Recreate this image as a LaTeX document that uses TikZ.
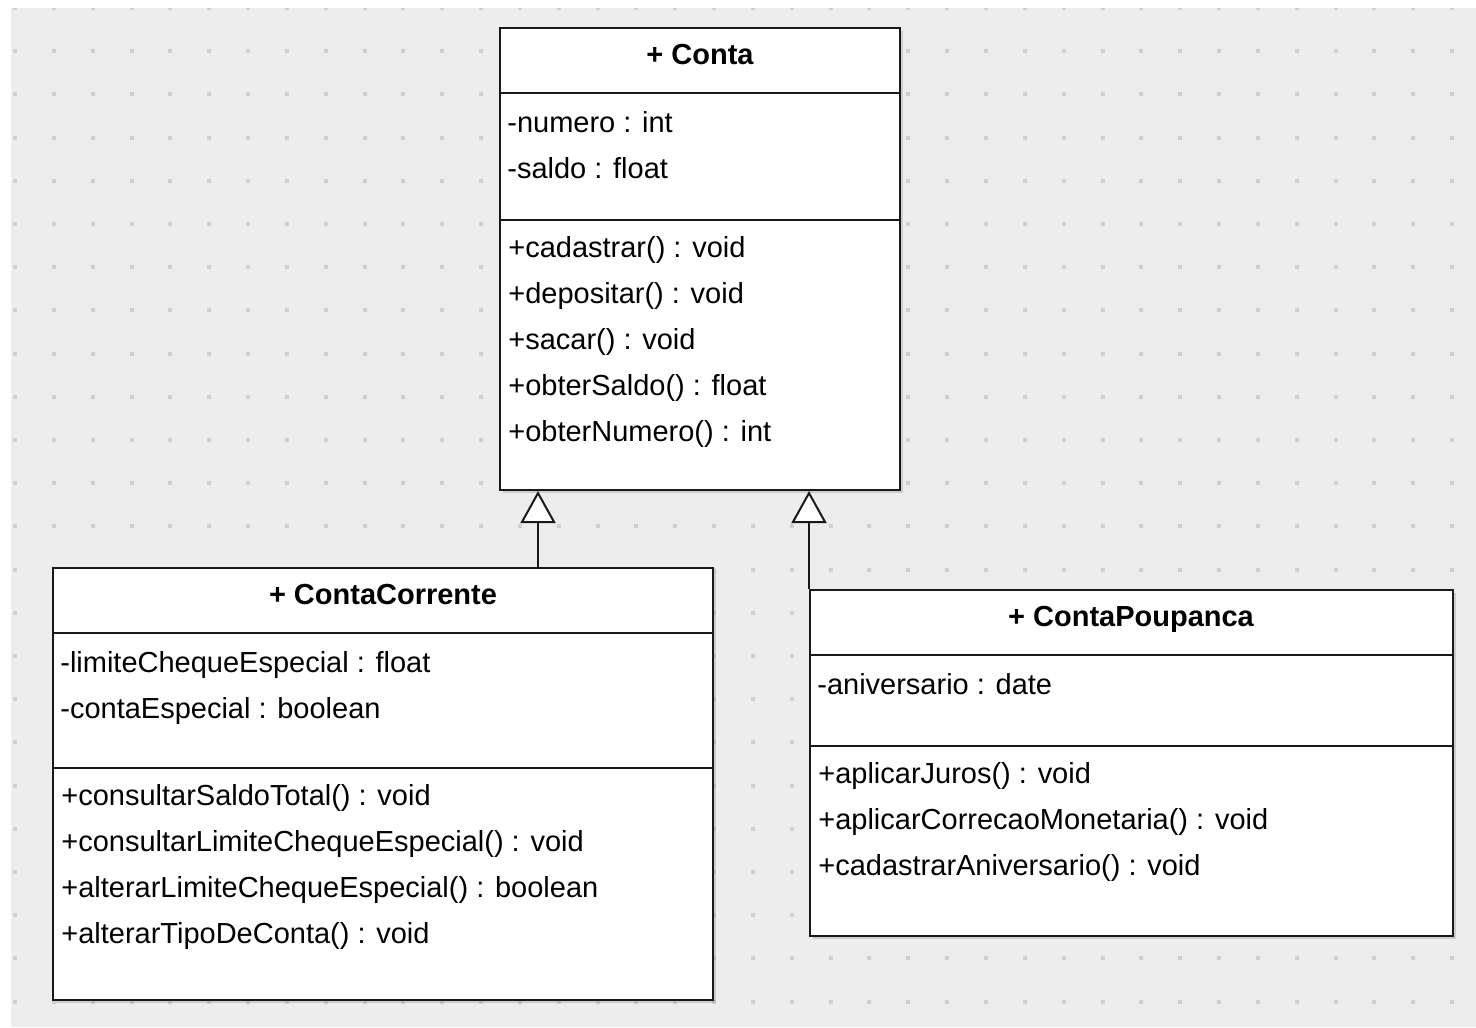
\documentclass[tikz,border=0pt]{standalone}
\usepackage{fontspec}
\setmainfont{Liberation Sans}
\usetikzlibrary{arrows.meta,fit,shadows}
\definecolor{canvas}{HTML}{EDEDED}
\definecolor{griddot}{HTML}{CFCFCF}
\begin{document}
\begin{tikzpicture}[x=0.2mm,y=-0.2mm]
	\tikzset{
		classbox/.style={draw=black!90,line width=0.4mm,fill=white,inner sep=0pt,
			drop shadow={shadow xshift=0.5mm,shadow yshift=-0.5mm,opacity=0.3}},
		title/.style={anchor=base,inner sep=0pt,font=\fontsize{16.5}{20}\selectfont\bfseries},
		member/.style={anchor=base west,inner sep=0pt,font=\fontsize{16.5}{20}\selectfont},
		sep/.style={draw=black!90,line width=0.4mm},
		gen/.style={draw=black!90,line width=0.4mm,-{Triangle[width=7mm,length=6.4mm,fill=white]}}
	}
	\useasboundingbox (0,0) rectangle (1476,1027);
	% canvas with dot grid
	\fill[canvas] (11,8) rectangle (1476,1027);
	\begin{scope}
		\clip (11,8) rectangle (1476,1027);
		\foreach \i in {0,...,37}
			\foreach \j in {0,...,23}
				\fill[griddot] ({13+38.84*\i},{6+43.2*\j}) rectangle ++(4,4);
	\end{scope}
	% classes
	\node[classbox,fit={(500,28) (900,490)}] (conta) {};
	\node[classbox,fit={(53,568) (713,1000)}] (corrente) {};
	\node[classbox,fit={(810,590) (1453,936)}] (poupanca) {};
	\draw[sep] (500,93) -- (900,93);
	\draw[sep] (500,220) -- (900,220);
	\draw[sep] (53,633) -- (713,633);
	\draw[sep] (53,768) -- (713,768);
	\draw[sep] (810,655) -- (1453,655);
	\draw[sep] (810,746) -- (1453,746);
	% Conta
	\node[title] (conta_t) at (700,64) {+ Conta};
	\foreach \t [count=\i] in {-numero : int, -saldo : float}
		\node[member] (conta_a\i) at (507,{132+46*(\i-1)}) {\t};
	\foreach \t [count=\i] in {+cadastrar() : void, +depositar() : void, +sacar() : void,
		+obterSaldo() : float, +obterNumero() : int}
		\node[member] (conta_m\i) at (508,{257+46*(\i-1)}) {\t};
	% ContaCorrente
	\node[title] (corrente_t) at (383,604) {+ ContaCorrente};
	\foreach \t [count=\i] in {-limiteChequeEspecial : float, -contaEspecial : boolean}
		\node[member] (corrente_a\i) at (60,{672+46*(\i-1)}) {\t};
	\foreach \t [count=\i] in {+consultarSaldoTotal() : void, +consultarLimiteChequeEspecial() : void,
		+alterarLimiteChequeEspecial() : boolean, +alterarTipoDeConta() : void}
		\node[member] (corrente_m\i) at (61,{805+46*(\i-1)}) {\t};
	% ContaPoupanca
	\node[title] (poupanca_t) at (1131,626) {+ ContaPoupanca};
	\node[member] (poupanca_a1) at (817,694) {-aniversario : date};
	\foreach \t [count=\i] in {+aplicarJuros() : void, +aplicarCorrecaoMonetaria() : void,
		+cadastrarAniversario() : void}
		\node[member] (poupanca_m\i) at (818,{783+46*(\i-1)}) {\t};
	% generalizations
	\coordinate (g_1) at ([xshift=7.8mm]conta.south west);
	\draw[gen] (corrente.north -| g_1) -- (g_1);
	\draw[gen] (poupanca.north west) -- (conta.south -| poupanca.north west);
\end{tikzpicture}
\end{document}
